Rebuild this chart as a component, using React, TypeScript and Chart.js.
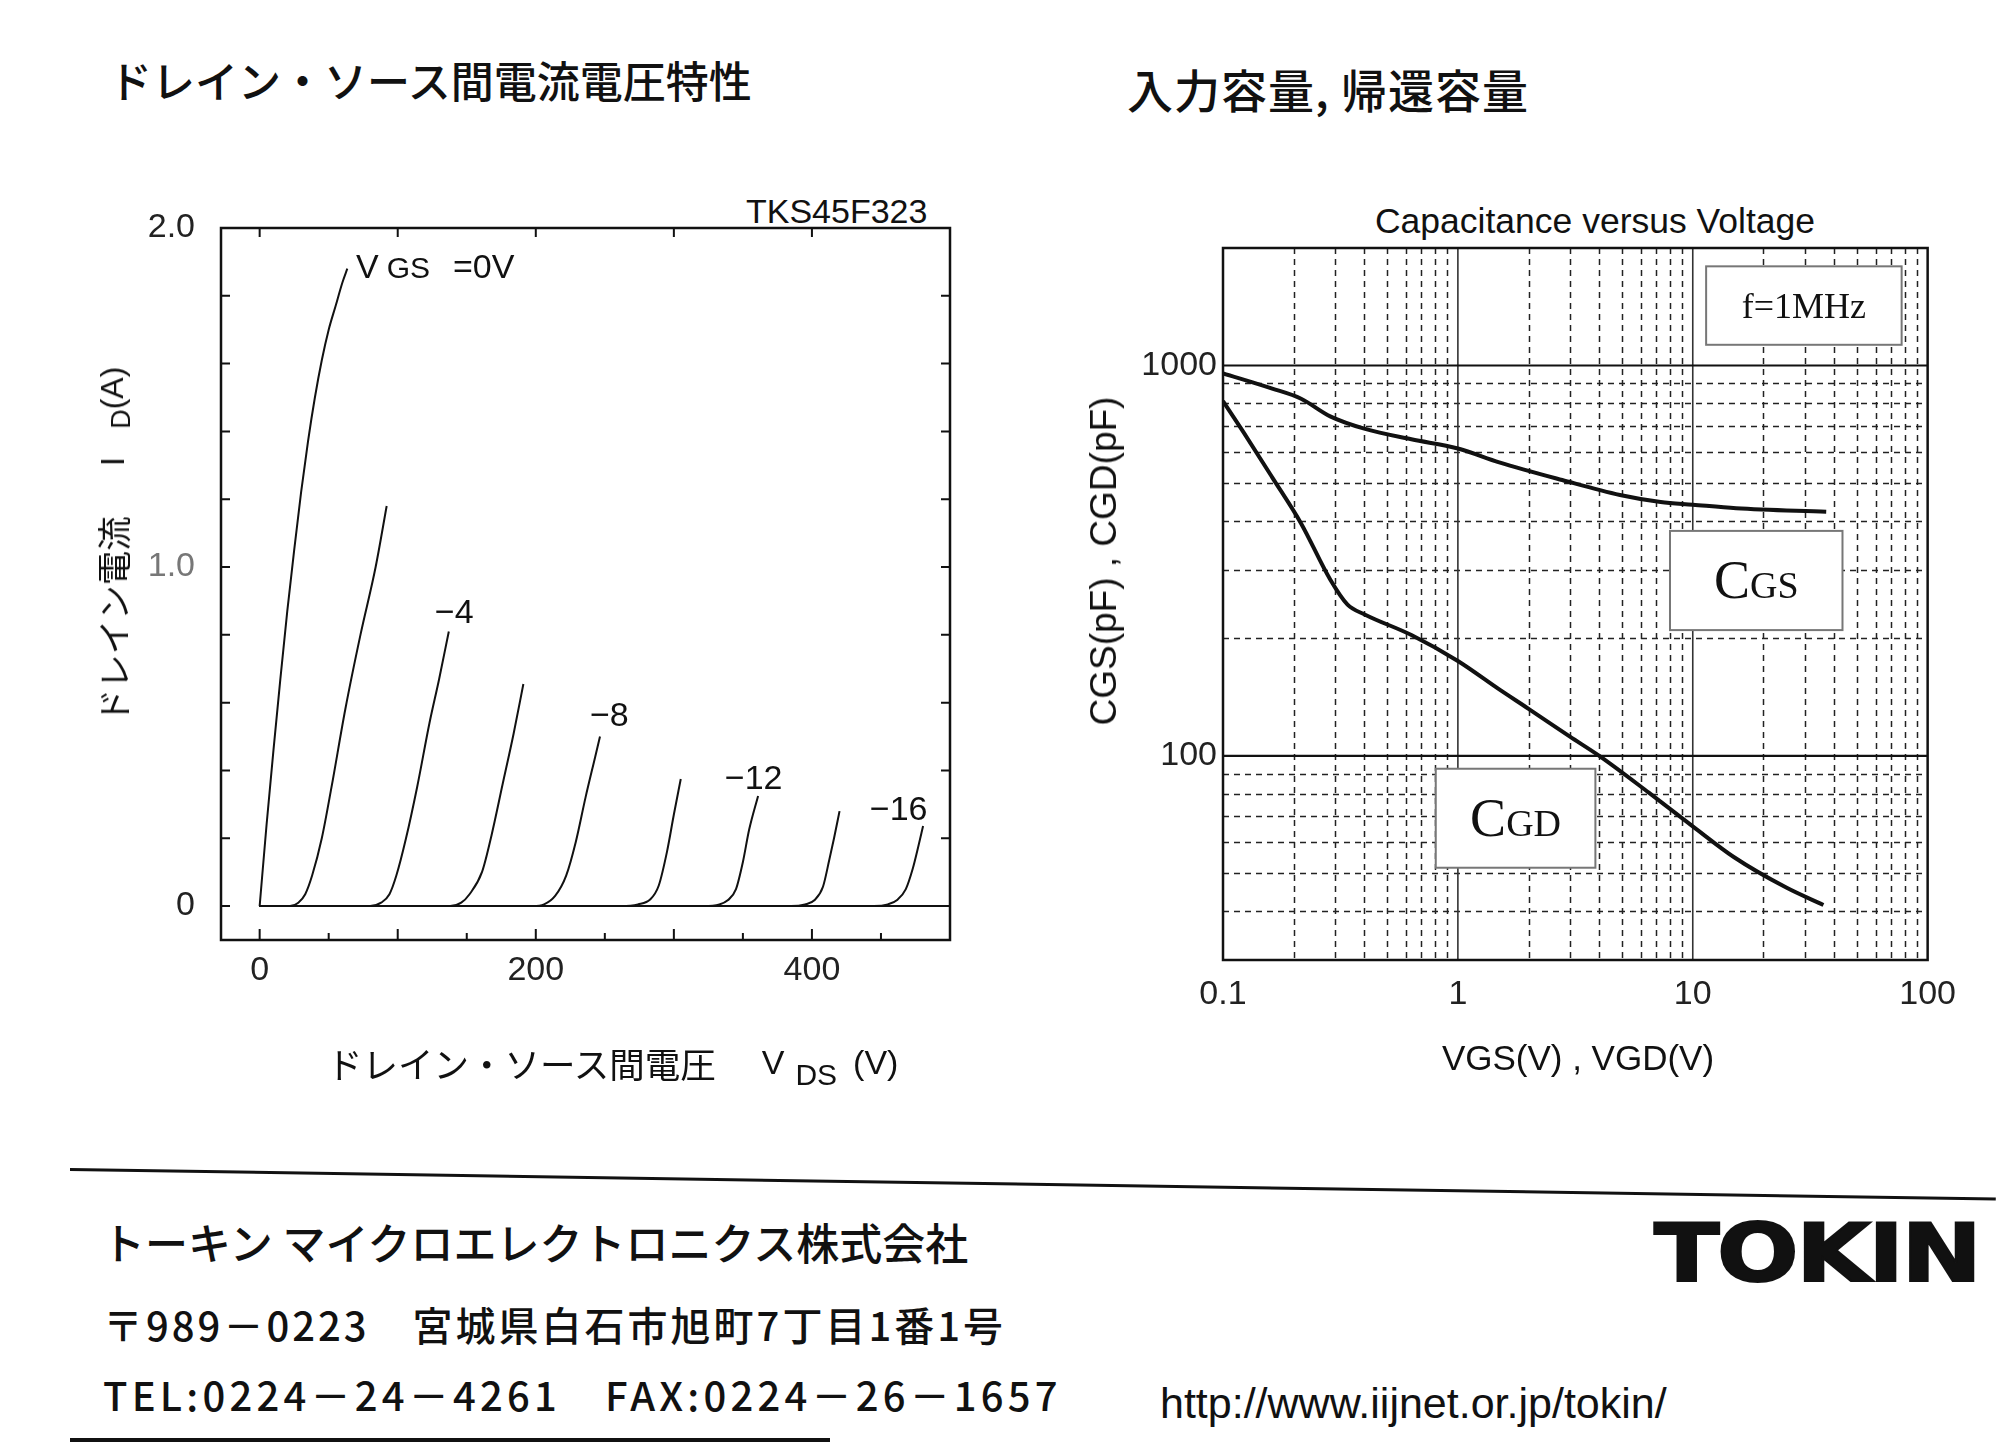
import React, { useEffect, useRef } from "react";
import { Chart, registerables } from "chart.js";

Chart.register(...registerables);

// ---------- Left chart: drain current vs drain-source voltage ----------
// [VDS (V), ID (A)]
const vdsTicks = [0, 200, 400];
const idTicks = [0, 1.0, 2.0];
const curveVgs0: [number, number][] = [[0, 0], [5, 0.24], [10, 0.46], [15, 0.67], [20, 0.87], [25, 1.05], [30, 1.22], [35, 1.37], [40, 1.5], [45, 1.61], [50, 1.7], [55, 1.77], [60, 1.84], [63.5, 1.88]];
const curveVgsM2: [number, number][] = [[0, 0], [22, 0], [28, 0.01], [33, 0.035], [38, 0.09], [45, 0.2], [52, 0.35], [62, 0.58], [73, 0.8], [84, 1.0], [92, 1.18]];
const curveVgsM4: [number, number][] = [[0, 0], [80, 0], [88, 0.01], [94, 0.035], [99, 0.09], [106, 0.2], [114, 0.35], [123, 0.54], [130, 0.67], [137, 0.81]];
const curveVgsM6: [number, number][] = [[0, 0], [138, 0], [146, 0.01], [152, 0.035], [161, 0.1], [168, 0.21], [176, 0.36], [184, 0.51], [191, 0.655]];
const curveVgsM8: [number, number][] = [[0, 0], [198, 0], [206, 0.005], [214, 0.03], [222, 0.09], [229, 0.19], [236, 0.32], [243, 0.44], [246.5, 0.5]];
const curveVgsM10: [number, number][] = [[0, 0], [262, 0], [274, 0.005], [283, 0.02], [289, 0.06], [295, 0.16], [300, 0.27], [305, 0.375]];
const curveVgsM12: [number, number][] = [[0, 0], [322, 0], [333, 0.005], [339, 0.017], [345, 0.05], [350, 0.13], [354.5, 0.225], [361, 0.325]];
const curveVgsM14: [number, number][] = [[0, 0], [385, 0], [395, 0.005], [402, 0.018], [408, 0.057], [412.5, 0.135], [416, 0.2], [420, 0.28]];
const curveVgsM16: [number, number][] = [[0, 0], [445, 0], [455, 0.005], [462, 0.019], [468, 0.05], [473, 0.11], [477, 0.175], [480.5, 0.236]];
const leakageBaseline: [number, number][] = [[0, 0], [500, 0]];
const leftCurves = [curveVgs0, curveVgsM2, curveVgsM4, curveVgsM6, curveVgsM8, curveVgsM10, curveVgsM12, curveVgsM14, curveVgsM16, leakageBaseline];

// ---------- Right chart: capacitance vs voltage ----------
// [V (V), C (pF)]
const capXTicks = [0.1, 1, 10, 100];
const capYTicks = [100, 1000];
const cgsCurve: [number, number][] = [[0.1, 955], [0.162, 873], [0.215, 822], [0.286, 741], [0.403, 688], [0.634, 647], [1.0, 613], [1.5, 565], [2.78, 509], [4.9, 466], [7.3, 447], [10, 440], [15.3, 431], [37, 422]];
const cgdCurve: [number, number][] = [[0.1, 811], [0.122, 676], [0.162, 517], [0.215, 394], [0.286, 283], [0.339, 244], [0.403, 230], [0.634, 204], [1.0, 175], [1.5, 148], [2, 132], [3, 112], [4, 100], [6.5, 80.5], [10, 66], [15, 55], [25, 46], [36, 41.5]];

const SANS = '"Liberation Sans", Arial, sans-serif';
const SERIF = '"Liberation Serif", "Times New Roman", serif';
const CJK = '"Noto Sans CJK JP", sans-serif';

const leftDecor = {
  id: "leftDecor",
  afterDatasetsDraw(chart: any) {
    const { ctx, chartArea: a, scales } = chart;
    const x = scales.x, y = scales.y;
    ctx.save();
    ctx.strokeStyle = "#111";
    ctx.lineWidth = 2.5;
    ctx.strokeRect(a.left, a.top, a.right - a.left, a.bottom - a.top);
    ctx.lineWidth = 2;
    ctx.beginPath();
    for (let v = 0; v <= 500; v += 50) {
      const px = x.getPixelForValue(v);
      const len = v % 100 === 0 ? 11 : 7;
      ctx.moveTo(px, a.bottom);
      ctx.lineTo(px, a.bottom - len);
    }
    for (let v = 0; v <= 400; v += 100) {
      const px = x.getPixelForValue(v);
      ctx.moveTo(px, a.top);
      ctx.lineTo(px, a.top + 9);
    }
    for (let i = 0; i <= 10; i++) {
      const py = y.getPixelForValue(i * 0.2);
      ctx.moveTo(a.left, py);
      ctx.lineTo(a.left + 9, py);
      ctx.moveTo(a.right, py);
      ctx.lineTo(a.right - 9, py);
    }
    ctx.stroke();

    ctx.fillStyle = "#111";
    ctx.textBaseline = "alphabetic";
    ctx.textAlign = "left";
    const by = y.getPixelForValue(1.853);
    ctx.font = `34px ${SANS}`;
    ctx.fillText("V", x.getPixelForValue(69.7), by);
    ctx.font = `30px ${SANS}`;
    ctx.fillText("GS", x.getPixelForValue(92), by);
    ctx.font = `34px ${SANS}`;
    ctx.fillText("=0V", x.getPixelForValue(140), by);

    ctx.textBaseline = "middle";
    const labels: [string, number, number][] = [
      ["\u22124", 126.9, 0.864],
      ["\u22128", 239.2, 0.558],
      ["\u221212", 336.9, 0.372],
      ["\u221216", 441.9, 0.283],
    ];
    for (const [t, lx, ly] of labels) {
      ctx.fillText(t, x.getPixelForValue(lx), y.getPixelForValue(ly));
    }
    ctx.restore();
  },
};

const rightDecor = {
  id: "rightDecor",
  beforeDatasetsDraw(chart: any) {
    const { ctx, chartArea: a, scales } = chart;
    const x = scales.x, y = scales.y;
    ctx.save();
    ctx.strokeStyle = "#222";
    ctx.lineWidth = 1.5;
    ctx.setLineDash([6, 5]);
    ctx.beginPath();
    for (const dec of [0.1, 1, 10]) {
      for (let m = 2; m <= 9; m++) {
        const px = Math.round(x.getPixelForValue(dec * m)) + 0.5;
        ctx.moveTo(px, a.top);
        ctx.lineTo(px, a.bottom);
      }
    }
    for (const dec of [10, 100]) {
      for (let m = dec === 10 ? 4 : 2; m <= 9; m++) {
        const py = Math.round(y.getPixelForValue(dec * m)) + 0.5;
        ctx.moveTo(a.left, py);
        ctx.lineTo(a.right, py);
      }
    }
    ctx.stroke();
    ctx.setLineDash([]);
    ctx.strokeStyle = "#333";
    ctx.lineWidth = 1.6;
    ctx.beginPath();
    for (const v of [1, 10]) {
      const px = x.getPixelForValue(v);
      ctx.moveTo(px, a.top);
      ctx.lineTo(px, a.bottom);
    }
    ctx.stroke();
    ctx.strokeStyle = "#111";
    ctx.lineWidth = 2.2;
    ctx.beginPath();
    for (const v of [100, 1000]) {
      const py = y.getPixelForValue(v);
      ctx.moveTo(a.left, py);
      ctx.lineTo(a.right, py);
    }
    ctx.stroke();
    ctx.restore();
  },
  afterDatasetsDraw(chart: any) {
    const { ctx, chartArea: a, scales } = chart;
    const x = scales.x, y = scales.y;
    ctx.save();
    ctx.strokeStyle = "#111";
    ctx.lineWidth = 2.5;
    ctx.strokeRect(a.left, a.top, a.right - a.left, a.bottom - a.top);

    const drawBox = (x0: number, x1: number, y0: number, y1: number, parts: [string, number][], base: number) => {
      const l = x.getPixelForValue(x0), r = x.getPixelForValue(x1);
      const t = y.getPixelForValue(y1), b = y.getPixelForValue(y0);
      ctx.fillStyle = "#fff";
      ctx.fillRect(l, t, r - l, b - t);
      ctx.strokeStyle = "#777";
      ctx.lineWidth = 2;
      ctx.strokeRect(l, t, r - l, b - t);
      ctx.fillStyle = "#111";
      ctx.textBaseline = "alphabetic";
      ctx.textAlign = "left";
      let total = 0;
      const widths = parts.map(([s, size]) => {
        ctx.font = `${size}px ${SERIF}`;
        const w = ctx.measureText(s).width;
        total += w;
        return w;
      });
      let cx = (l + r) / 2 - total / 2;
      const cy = (t + b) / 2 + base;
      parts.forEach(([s, size], i) => {
        ctx.font = `${size}px ${SERIF}`;
        ctx.fillText(s, cx, cy);
        cx += widths[i];
      });
    };
    drawBox(11.4, 77.5, 1130, 1795, [["f=1MHz", 36]], 12);
    drawBox(8.0, 43.4, 210, 377, [["C", 54], ["GS", 38]], 18);
    drawBox(0.805, 3.85, 51.7, 92.7, [["C", 54], ["GD", 38]], 18);
    ctx.restore();
  },
};

const tickFont = { family: SANS, size: 34 };

function leftConfig(): any {
  return {
    type: "line",
    data: {
      datasets: leftCurves.map((c) => ({
        data: c.map(([vx, vy]) => ({ x: vx, y: vy })),
        borderColor: "#111",
        borderWidth: 2,
        pointRadius: 0,
        fill: false,
        cubicInterpolationMode: "monotone",
      })),
    },
    options: {
      animation: false,
      responsive: true,
      maintainAspectRatio: false,
      layout: { padding: { top: 48, right: 30, left: 0, bottom: 0 } },
      plugins: { legend: { display: false }, tooltip: { enabled: false }, title: { display: false } },
      scales: {
        x: {
          type: "linear",
          min: -28,
          max: 500,
          grid: { display: false, drawTicks: false },
          border: { display: false },
          afterBuildTicks: (s: any) => { s.ticks = vdsTicks.map((v) => ({ value: v })); },
          afterFit: (s: any) => { s.height = 100; },
          ticks: { padding: 10, font: tickFont, color: "#222", autoSkip: false, maxRotation: 0, callback: (v: any) => String(v) },
        },
        y: {
          type: "linear",
          min: -0.1,
          max: 2.0,
          grid: { display: false, drawTicks: false },
          border: { display: false },
          afterBuildTicks: (s: any) => { s.ticks = idTicks.map((v) => ({ value: v })); },
          afterFit: (s: any) => { s.width = 121; },
          ticks: {
            padding: 26,
            font: tickFont,
            color: (c: any) => (c.tick && c.tick.value === 1 ? "#777" : "#222"),
            autoSkip: false,
            callback: (v: any) => (Number(v) === 0 ? "0" : Number(v).toFixed(1)),
          },
        },
      },
    },
    plugins: [leftDecor],
  };
}

function rightConfig(): any {
  return {
    type: "line",
    data: {
      datasets: [cgsCurve, cgdCurve].map((c) => ({
        data: c.map(([vx, vy]) => ({ x: vx, y: vy })),
        borderColor: "#111",
        borderWidth: 4,
        pointRadius: 0,
        fill: false,
        cubicInterpolationMode: "monotone",
      })),
    },
    options: {
      animation: false,
      responsive: true,
      maintainAspectRatio: false,
      layout: { padding: { top: 68, right: 40, left: 0, bottom: 0 } },
      plugins: { legend: { display: false }, tooltip: { enabled: false }, title: { display: false } },
      scales: {
        x: {
          type: "logarithmic",
          min: 0.1,
          max: 100,
          grid: { display: false, drawTicks: false },
          border: { display: false },
          afterBuildTicks: (s: any) => { s.ticks = capXTicks.map((v) => ({ value: v })); },
          afterFit: (s: any) => { s.height = 100; },
          ticks: { padding: 14, font: tickFont, color: "#222", autoSkip: false, maxRotation: 0, callback: (v: any) => String(v) },
        },
        y: {
          type: "logarithmic",
          min: 30,
          max: 2000,
          grid: { display: false, drawTicks: false },
          border: { display: false },
          afterBuildTicks: (s: any) => { s.ticks = capYTicks.map((v) => ({ value: v })); },
          afterFit: (s: any) => { s.width = 133; },
          ticks: { padding: 6, font: tickFont, color: "#222", autoSkip: false, callback: (v: any) => String(v) },
        },
      },
    },
    plugins: [rightDecor],
  };
}

const abs = (o: React.CSSProperties): React.CSSProperties => ({
  position: "absolute",
  whiteSpace: "nowrap",
  lineHeight: 1,
  color: "#111",
  ...o,
});

export default function App() {
  const leftRef = useRef<HTMLCanvasElement>(null);
  const rightRef = useRef<HTMLCanvasElement>(null);

  useEffect(() => {
    document.body.style.margin = "0";
    const l = new Chart(leftRef.current as HTMLCanvasElement, leftConfig());
    const r = new Chart(rightRef.current as HTMLCanvasElement, rightConfig());
    return () => {
      l.destroy();
      r.destroy();
    };
  }, []);

  return (
    <div style={{ position: "absolute", left: 0, top: 0, width: 2000, height: 1443, background: "#fff", overflow: "hidden" }}>
      {/* titles */}
      <div style={abs({ left: 109, top: 79, transform: "translateY(-50%)", font: `500 43px ${CJK}` })}>ドレイン・ソース間電流電圧特性</div>
      <div style={abs({ left: 1127, top: 88, transform: "translateY(-50%)", font: `500 46px ${CJK}`, letterSpacing: 1 })}>入力容量, 帰還容量</div>

      {/* left chart */}
      <div style={abs({ left: 746, top: 211, transform: "translateY(-50%)", font: `34px ${SANS}` })}>TKS45F323</div>
      <div style={{ position: "absolute", left: 100, top: 180, width: 880, height: 860 }}>
        <canvas ref={leftRef} />
      </div>
      <div
        style={abs({
          left: 112,
          top: 545,
          transform: "translate(-50%, -50%) rotate(-90deg)",
          font: `34.5px ${CJK}`,
          display: "flex",
          alignItems: "center",
        })}
      >
        <span>ドレイン電流</span>
        <span style={{ marginLeft: 50, fontFamily: SANS, fontSize: 34 }}>I</span>
        <span style={{ marginLeft: 28, fontFamily: SANS, fontSize: 27, position: "relative", top: 9 }}>D</span>
        <span style={{ fontFamily: SANS, fontSize: 32 }}>(A)</span>
      </div>
      <div style={abs({ left: 327, top: 1062, transform: "translateY(-50%)", font: `35.5px ${CJK}`, display: "flex", alignItems: "center" })}>
        <span>ドレイン・ソース間電圧</span>
        <span style={{ marginLeft: 46, fontFamily: SANS, fontSize: 34 }}>V</span>
        <span style={{ marginLeft: 11, fontFamily: SANS, fontSize: 30, position: "relative", top: 12 }}>DS</span>
        <span style={{ marginLeft: 16, fontFamily: SANS, fontSize: 34 }}>(V)</span>
      </div>

      {/* right chart */}
      <div style={abs({ left: 1595, top: 221, transform: "translate(-50%, -50%)", font: `35.5px ${SANS}` })}>Capacitance versus Voltage</div>
      <div style={{ position: "absolute", left: 1090, top: 180, width: 880, height: 880 }}>
        <canvas ref={rightRef} />
      </div>
      <div style={abs({ left: 1104, top: 561, transform: "translate(-50%, -50%) rotate(-90deg)", font: `37px ${SANS}` })}>CGS(pF) , CGD(pF)</div>
      <div style={abs({ left: 1578, top: 1058, transform: "translate(-50%, -50%)", font: `35px ${SANS}` })}>VGS(V) , VGD(V)</div>

      {/* footer */}
      <div style={{ position: "absolute", left: 70, top: 1168, width: 1926, height: 3, background: "#111", transform: "rotate(0.88deg)", transformOrigin: "left center" }} />
      <div style={abs({ left: 102, top: 1241, transform: "translateY(-50%)", font: `500 43px ${CJK}` })}>トーキン マイクロエレクトロニクス株式会社</div>
      <div
        style={abs({
          left: 1654,
          top: 1253,
          transform: "translateY(-50%) scale(1.2, 1)",
          transformOrigin: "left center",
          font: `bold 80px "DejaVu Sans", sans-serif`,
          letterSpacing: -2,
          WebkitTextStroke: "2px #111",
        } as React.CSSProperties)}
      >
        TOKIN
      </div>
      <div style={abs({ left: 103, top: 1324, transform: "translateY(-50%)", font: `500 40px ${CJK}`, letterSpacing: 3 })}>〒989－0223　宮城県白石市旭町7丁目1番1号</div>
      <div style={abs({ left: 103, top: 1394, transform: "translateY(-50%)", font: `500 40px ${CJK}`, letterSpacing: 4.2 })}>TEL:0224－24－4261　FAX:0224－26－1657</div>
      <div style={abs({ left: 1160, top: 1403, transform: "translateY(-50%)", font: `43px ${SANS}` })}>http://www.iijnet.or.jp/tokin/</div>
      <div style={{ position: "absolute", left: 70, top: 1438, width: 760, height: 4, background: "#111" }} />
    </div>
  );
}
